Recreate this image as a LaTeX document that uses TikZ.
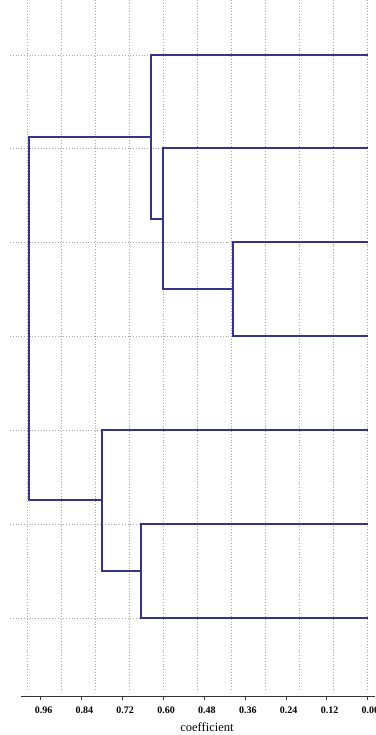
\documentclass[tikz,border=0pt]{standalone}
\usepackage{fontspec}
\setmainfont{Liberation Serif}
\usetikzlibrary{positioning}
\definecolor{navy}{RGB}{52,52,140}
\tikzset{
  branch/.style={draw=navy, line width=1.5pt},
  gridline/.style={draw=gray!70, line width=0.8pt, dotted},
  axisline/.style={draw=black!80, line width=0.9pt},
  ticklabel/.style={font=\bfseries\fontsize{10}{12}\selectfont, inner sep=0pt}
}

\begin{document}
\begin{tikzpicture}[x=1pt, y=-1pt]
    \useasboundingbox (0,0) rectangle (375,735);
    %% dotted grid: one vertical per 0.1 of the coefficient, one horizontal per leaf
    \foreach \k in {0,...,10}
      \draw[gridline] (27.1+34.06*\k, 0) -- (27.1+34.06*\k, 690);
    \foreach \yy in {55,148,242,336,430,524,618}
      \draw[gridline] (10,\yy) -- (368,\yy);
    %% leaves
    \coordinate (l1) at (368, 55);
    \coordinate (l2) at (368,148);
    \coordinate (l3) at (368,242);
    \coordinate (l4) at (368,336);
    \coordinate (l5) at (368,430);
    \coordinate (l6) at (368,524);
    \coordinate (l7) at (368,618);
    %% merge points
    \coordinate (m34)   at (233,289);
    \coordinate (m234)  at (163,219);
    \coordinate (m1234) at (151,137);
    \coordinate (m67)   at (141,571);
    \coordinate (m567)  at (102,500);
    \coordinate (root)  at (29,319);
    \draw[branch] (l3) -| (m34) |- (l4);
    \draw[branch] (l2) -| (m234) |- (m34);
    \draw[branch] (l1) -| (m1234) |- (m234);
    \draw[branch] (l6) -| (m67) |- (l7);
    \draw[branch] (l5) -| (m567) |- (m67);
    \draw[branch] (m1234) -| (root) |- (m567);
    %% axis
    \coordinate (a0) at (21,696);
    \coordinate (a1) at (375,696);
    \draw[axisline] (a0) -- (a1);
    \foreach \lab [count=\i from 0] in {0.96,0.84,0.72,0.60,0.48,0.36,0.24,0.12,0.00} {
      \draw[axisline, line width=0.6pt] (40.7+40.87*\i,696) -- (40.7+40.87*\i,699.5);
      \node[ticklabel] (t\i) at (43.5+40.87*\i,710) {\lab};
    }
    \node[font=\fontsize{12.5}{14}\selectfont, inner sep=0pt] (xlab) at (207,727) {coefficient};
\end{tikzpicture}
\end{document}
